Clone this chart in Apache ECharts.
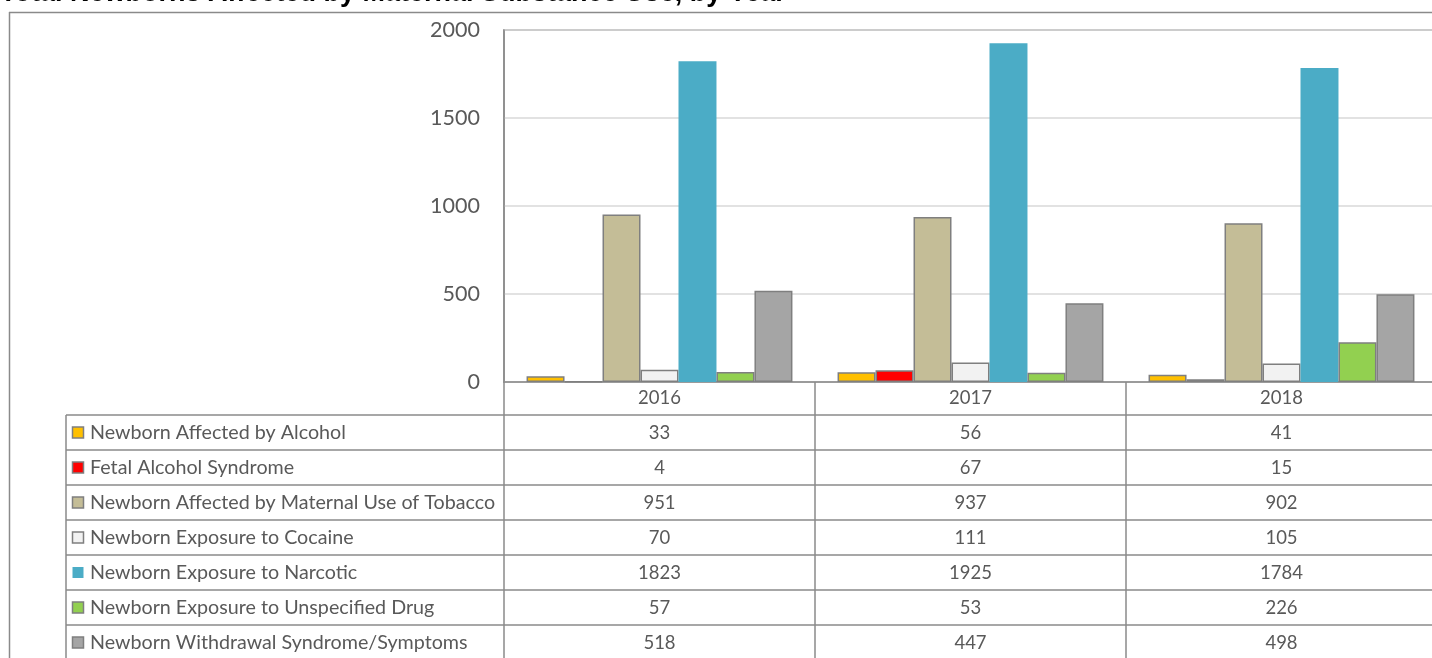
<!DOCTYPE html>
<html><head><meta charset="utf-8">
<script src="https://cdn.jsdelivr.net/npm/echarts@6.0.0/dist/echarts.min.js"></script>
<style>html,body{margin:0;padding:0;background:#fff;overflow:hidden}#c{width:1432px;height:658px}</style>
</head><body><div id="c"></div>
<script>
const titleText = 'Total Newborns Affected by Maternal Substance Use, by Year';
const years = ['2016', '2017', '2018'];
const seriesNames = [
  'Newborn Affected by Alcohol',
  'Fetal Alcohol Syndrome',
  'Newborn Affected by Maternal Use of Tobacco',
  'Newborn Exposure to Cocaine',
  'Newborn Exposure to Narcotic',
  'Newborn Exposure to Unspecified Drug',
  'Newborn Withdrawal Syndrome/Symptoms'
];
const alcohol = [33, 56, 41];
const fetalAlcohol = [4, 67, 15];
const tobacco = [951, 937, 902];
const cocaine = [70, 111, 105];
const narcotic = [1823, 1925, 1784];
const unspecified = [57, 53, 226];
const withdrawal = [518, 447, 498];
const yTicks = [0, 500, 1000, 1500, 2000];

const seriesValues = [alcohol, fetalAlcohol, tobacco, cocaine, narcotic, unspecified, withdrawal];
const colors = ['#FFC000', '#FF0000', '#C4BD97', '#F2F2F2', '#4BACC6', '#92D050', '#A5A5A5'];
const hasBorder = [true, true, true, true, false, true, true];
const lineCol = '#8a8a8a';
const txtCol = '#595959';
const FONT = 'Lato, "Open Sans", sans-serif';

const chart = echarts.init(document.getElementById('c'), null, {renderer: 'canvas'});

const option = {
  animation: false,
  backgroundColor: '#ffffff',
  grid: {left: 504, top: 30, width: 933, height: 352, show: true, borderColor: lineCol, borderWidth: 1.5,
    containLabel: false, outerBoundsMode: 'none'},
  xAxis: {
    type: 'category', data: years,
    axisLine: {lineStyle: {color: lineCol, width: 1.5}},
    axisTick: {show: true, length: 290, lineStyle: {color: lineCol, width: 1.5}},
    axisLabel: {fontSize: 18.5, color: txtCol, margin: 7, fontFamily: FONT}
  },
  yAxis: {
    type: 'value', min: yTicks[0], max: yTicks[yTicks.length - 1], interval: yTicks[1] - yTicks[0],
    axisLine: {show: true, lineStyle: {color: lineCol, width: 1.5}},
    axisTick: {show: false},
    splitLine: {lineStyle: {color: '#d9d9d9', width: 1.5}},
    axisLabel: {fontSize: 21.5, color: txtCol, margin: 24, fontFamily: FONT, formatter: v => String(v)}
  },
  series: seriesNames.map((n, i) => ({
    name: n, type: 'bar', data: seriesValues[i],
    barGap: '0%', barCategoryGap: '14.5%',
    itemStyle: {color: colors[i], borderColor: hasBorder[i] ? '#7f7f7f' : colors[i], borderWidth: hasBorder[i] ? 1.5 : 0}
  }))
};
chart.setOption(option);

// Data table and decorations
const rowTop = 415, rowH = 35;
const g = [];
g.push({type: 'line', shape: {x1: 9.5, y1: 12, x2: 9.5, y2: 700}, style: {stroke: lineCol, lineWidth: 1.5}, silent: true});
g.push({type: 'line', shape: {x1: 9, y1: 12.5, x2: 1440, y2: 12.5}, style: {stroke: lineCol, lineWidth: 1.5}, silent: true});
g.push({type: 'text', left: 0, top: -20, style: {text: titleText, font: 'bold 27px "Liberation Sans", Arial, sans-serif', fill: '#000'}, silent: true});
for (let r = 0; r < seriesNames.length; r++) {
  const y = rowTop + r * rowH;
  g.push({type: 'line', shape: {x1: 66, y1: y, x2: 1440, y2: y}, style: {stroke: lineCol, lineWidth: 1.5}, silent: true});
}
g.push({type: 'line', shape: {x1: 66, y1: rowTop, x2: 66, y2: 700}, style: {stroke: lineCol, lineWidth: 1.5}, silent: true});
seriesNames.forEach((n, r) => {
  const cy = rowTop + r * rowH + rowH / 2;
  g.push({type: 'rect', shape: {x: 72.5, y: cy - 5.5, width: 11, height: 11},
    style: {fill: colors[r], stroke: hasBorder[r] ? '#7f7f7f' : null, lineWidth: 1.5}, silent: true});
  g.push({type: 'text', x: 90, y: cy + 0.5, style: {text: n, fill: txtCol, font: '19.7px ' + FONT, verticalAlign: 'middle', align: 'left'}, silent: true});
  years.forEach((yr, c) => {
    const cx = chart.convertToPixel({xAxisIndex: 0}, yr);
    g.push({type: 'text', x: cx, y: cy + 0.5, style: {text: String(seriesValues[r][c]), fill: txtCol, font: '18.5px ' + FONT, verticalAlign: 'middle', align: 'center'}, silent: true});
  });
});
chart.setOption({graphic: g});
</script>
</body></html>
